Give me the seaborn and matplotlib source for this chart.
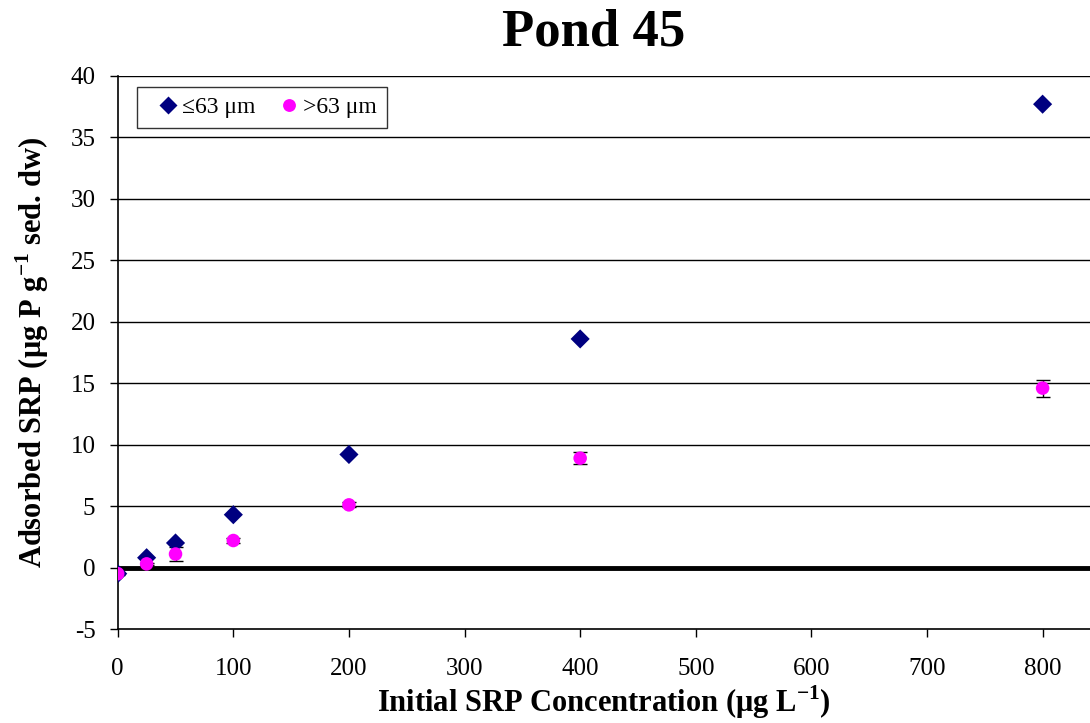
import matplotlib
matplotlib.use("Agg")
import matplotlib.pyplot as plt
import seaborn as sns
import pandas as pd
import numpy as np

conc = [0, 25, 50, 100, 200, 400, 800]
fine = [-0.5, 0.8, 2.0, 4.3, 9.2, 18.6, 37.7]
coarse = [-0.5, 0.3, 1.1, 2.2, 5.1, 8.9, 14.6]
coarse_err = [0.1, 0.1, 0.6, 0.2, 0.2, 0.5, 0.7]
labels = ["\u226463 \u03bcm", ">63 \u03bcm"]
yticks = list(range(-5, 41, 5))
xticks = list(range(0, 801, 100))

sns.set_theme(style="white")
plt.rcParams['font.family'] = ['Liberation Serif', 'DejaVu Serif']
plt.rcParams['mathtext.fontset'] = 'custom'
plt.rcParams['mathtext.rm'] = 'Liberation Serif'
plt.rcParams['mathtext.bf'] = 'Liberation Serif:bold'
plt.rcParams['axes.unicode_minus'] = False
for k in ['text.color', 'axes.labelcolor', 'xtick.color', 'ytick.color']:
    plt.rcParams[k] = 'black'

df = pd.DataFrame({
    "conc": conc * 2,
    "srp": fine + coarse,
    "size": [labels[0]] * len(conc) + [labels[1]] * len(conc),
})

fig = plt.figure(figsize=(10.9, 7.23), dpi=100)
ax = fig.add_axes([0.108, 0.13, 0.892, 0.765])

for y in yticks:
    if y not in (0, -5):
        ax.axhline(y, color="black", lw=1, zorder=0)
ax.axhline(0, color="black", lw=3.5, zorder=1)

ax.errorbar(conc, coarse, yerr=coarse_err, fmt="none", ecolor="black",
            elinewidth=1, capsize=5, capthick=1, zorder=2)

sns.scatterplot(data=df, x="conc", y="srp", hue="size", style="size",
                palette={labels[0]: "#000080", labels[1]: "#FF00FF"},
                markers={labels[0]: "D", labels[1]: "o"},
                s=95, edgecolor="none", ax=ax, zorder=3)

ax.set_xlim(0, 841)
ax.set_ylim(-5, 40)
ax.set_xticks(xticks)
ax.set_yticks(yticks)
ax.tick_params(axis="both", labelsize=18, direction="out", length=6, width=1,
               color="black", left=True, bottom=True)
ax.tick_params(axis="x", pad=15)
ax.tick_params(axis="y", pad=10)
for s in ["top", "right"]:
    ax.spines[s].set_visible(False)
for s in ["left", "bottom"]:
    ax.spines[s].set_color("black")
    ax.spines[s].set_linewidth(1.2)

ax.set_xlabel("Initial SRP Concentration (\u03bcg L$^{\\mathbf{-1}}$)", fontsize=22, fontweight="bold", labelpad=2)
ax.set_ylabel("Adsorbed SRP (\u03bcg P g$^{\\mathbf{-1}}$ sed. dw)", fontsize=22, fontweight="bold", labelpad=14)
fig.suptitle("Pond 45", fontsize=38, fontweight="bold", x=0.545, y=0.988)

leg = ax.legend(loc="upper left", bbox_to_anchor=(0.02, 0.98), fontsize=17, frameon=True,
                fancybox=False, edgecolor="black", handletextpad=-0.3, columnspacing=0.5,
                ncol=2, markerscale=0.95, borderpad=0.42, handlelength=1.8, borderaxespad=0)
leg.get_frame().set_linewidth(1)

fig.savefig("out.png", dpi=100)
